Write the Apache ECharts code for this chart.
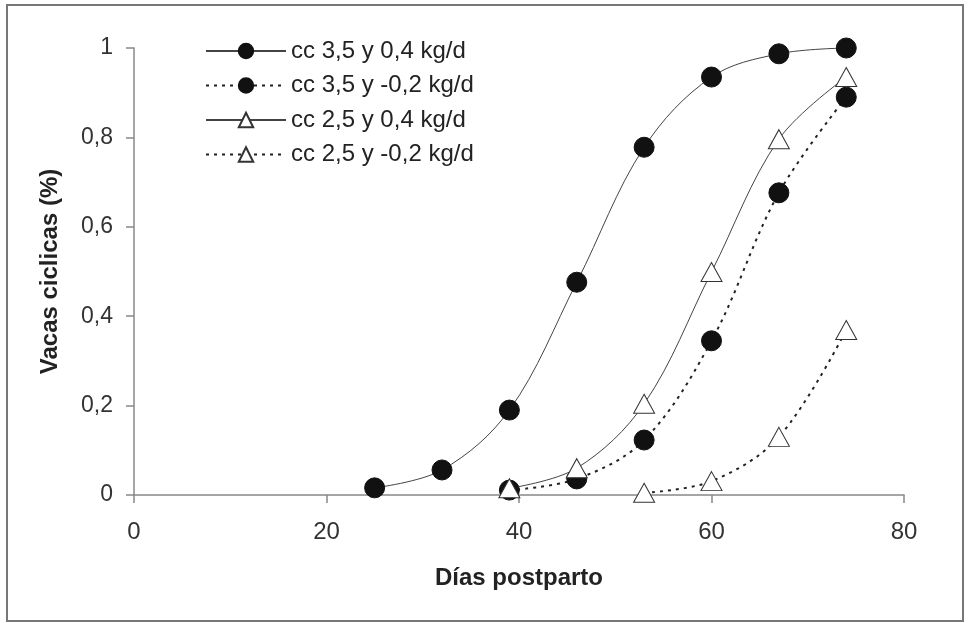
<!DOCTYPE html>
<html>
<head>
<meta charset="utf-8">
<script src="https://cdn.jsdelivr.net/npm/echarts@6/dist/echarts.min.js"></script>
<style>
html,body{margin:0;padding:0;background:#fff;}
#chart{width:969px;height:623px;}
</style>
</head>
<body>
<div id="chart"></div>
<script>
// Data
var seriesNames = ['cc 3,5 y 0,4 kg/d', 'cc 3,5 y -0,2 kg/d', 'cc 2,5 y 0,4 kg/d', 'cc 2,5 y -0,2 kg/d'];
var xA = [25, 32, 39, 46, 53, 60, 67, 74];
var yA = [0.016, 0.056, 0.19, 0.476, 0.778, 0.935, 0.987, 1.0];
var xB = [39, 46, 53, 60, 67, 74];
var yB = [0.011, 0.036, 0.123, 0.345, 0.676, 0.89];
var xC = [39, 46, 53, 60, 67, 74];
var yC = [0.015, 0.06, 0.204, 0.499, 0.796, 0.935];
var xD = [53, 60, 67, 74];
var yD = [0.005, 0.031, 0.13, 0.369];
var xTicks = [0, 20, 40, 60, 80];
var yTicks = [0, 0.2, 0.4, 0.6, 0.8, 1];

function pairs(xs, ys) { return xs.map(function (x, i) { return [x, ys[i]]; }); }

var chart = echarts.init(document.getElementById('chart'), null, {renderer: 'canvas'});
var font = '"Liberation Sans", Arial, sans-serif';
var solidLine = {color: '#444', width: 1, type: 'solid'};
var dotLine = {color: '#222', width: 2, type: [3, 5]};
var circleStyle = {color: '#111', borderColor: '#111', borderWidth: 1};
var triStyle = {color: '#fff', borderColor: '#333', borderWidth: 1};

chart.setOption({
  backgroundColor: '#fff',
  animation: false,
  graphic: [{
    type: 'rect',
    shape: {x: 7, y: 5, width: 956, height: 616},
    style: {fill: 'none', stroke: '#777', lineWidth: 2},
    silent: true
  }],
  legend: {
    orient: 'vertical',
    left: 200,
    top: 34,
    itemWidth: 80,
    itemHeight: 18,
    itemGap: 10.5,
    textStyle: {fontFamily: font, fontSize: 24, color: '#222'},
    data: seriesNames
  },
  grid: {left: 134, right: 65, top: 48, bottom: 128, containLabel: false},
  xAxis: {
    type: 'value',
    min: 0, max: 80, interval: 20,
    name: 'Días postparto',
    nameLocation: 'middle',
    nameGap: 71,
    nameTextStyle: {fontFamily: font, fontSize: 24, fontWeight: 'bold', color: '#222'},
    axisLine: {lineStyle: {color: '#888', width: 1.5}},
    axisTick: {show: true, length: 8, lineStyle: {color: '#888', width: 1.5}},
    axisLabel: {fontFamily: font, fontSize: 24, color: '#333', margin: 25,
      formatter: function (v) { return xTicks.indexOf(v) >= 0 ? String(v) : ''; }},
    splitLine: {show: false}
  },
  yAxis: {
    type: 'value',
    min: 0, max: 1, interval: 0.2,
    name: 'Vacas ciclicas (%)',
    nameLocation: 'middle',
    nameGap: 72,
    nameTextStyle: {fontFamily: font, fontSize: 24, fontWeight: 'bold', color: '#222'},
    axisLine: {show: true, lineStyle: {color: '#888', width: 1.5}},
    axisTick: {show: true, length: 8, lineStyle: {color: '#888', width: 1.5}},
    axisLabel: {fontFamily: font, fontSize: 23, color: '#333', margin: 21,
      formatter: function (v) {
        var r = Math.round(v * 10) / 10;
        return yTicks.some(function (t) { return Math.abs(t - r) < 1e-9; }) ? String(r).replace('.', ',') : '';
      }},
    splitLine: {show: false}
  },
  series: [
    {name: seriesNames[0], type: 'line', data: pairs(xA, yA), smooth: 0.35,
      symbol: 'circle', symbolSize: 20, lineStyle: solidLine, itemStyle: circleStyle},
    {name: seriesNames[1], type: 'line', data: pairs(xB, yB), smooth: 0.35,
      symbol: 'circle', symbolSize: 20, lineStyle: dotLine, itemStyle: circleStyle},
    {name: seriesNames[2], type: 'line', data: pairs(xC, yC), smooth: 0.35,
      symbol: 'triangle', symbolSize: [21, 19], lineStyle: solidLine, itemStyle: triStyle},
    {name: seriesNames[3], type: 'line', data: pairs(xD, yD), smooth: 0.35,
      symbol: 'triangle', symbolSize: [21, 19], lineStyle: dotLine, itemStyle: triStyle}
  ]
});
</script>
</body>
</html>
